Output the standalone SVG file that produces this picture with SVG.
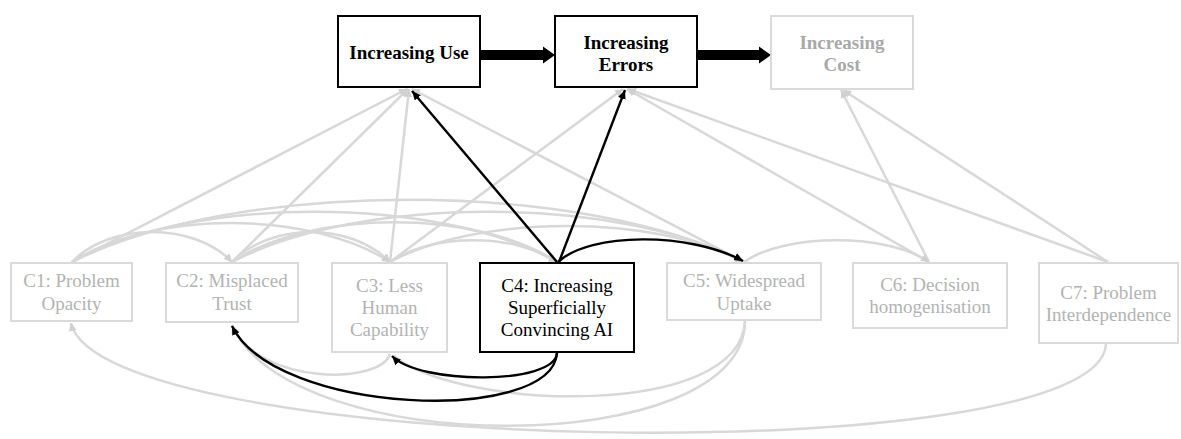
<svg xmlns="http://www.w3.org/2000/svg" width="1181" height="439" viewBox="0 0 1181 439">
<defs>
<style>
.box{fill:#fff;stroke:#000;stroke-width:2}
.gbox{fill:#fff;stroke:#dadada;stroke-width:2}
.t{font-family:"Liberation Serif","Times New Roman",serif;font-size:19px;text-anchor:middle}
.b{font-weight:bold}
.k{fill:#000}
.g{fill:#b3b3b3}
.gc{fill:#a9a9a9}
.gl{fill:none;stroke:#d8d8d8;stroke-width:2.5}
.bl{fill:none;stroke:#000;stroke-width:2.4}
.thick{fill:#000}
</style>
<marker id="ag" markerWidth="10" markerHeight="8" refX="8" refY="4" orient="auto" markerUnits="userSpaceOnUse"><path d="M0,0 L8,4 L0,8 z" fill="#d0d0d0"/></marker>
<marker id="ab" markerWidth="10" markerHeight="8" refX="9" refY="4" orient="auto" markerUnits="userSpaceOnUse"><path d="M0,0 L9,4 L0,8 z" fill="#000"/></marker>
</defs>
<rect width="1181" height="439" fill="#fff"/>
<g id="connectors">
<path class="gl" d="M72,262 L407,89" marker-end="url(#ag)"/>
<path class="gl" d="M232,262 L408,89" marker-end="url(#ag)"/>
<path class="gl" d="M390,262 L409,89" marker-end="url(#ag)"/>
<path class="gl" d="M744,262 L412,89" marker-end="url(#ag)"/>
<path class="gl" d="M390,262 L623,89" marker-end="url(#ag)"/>
<path class="gl" d="M929,262 L627,89" marker-end="url(#ag)"/>
<path class="gl" d="M1108,262 L628,89" marker-end="url(#ag)"/>
<path class="gl" d="M929,262 L841,90" marker-end="url(#ag)"/>
<path class="gl" d="M1108,262 L843,90" marker-end="url(#ag)"/>
<path class="gl" d="M72,262 C110,222 194,222 232,262" marker-end="url(#ag)"/>
<path class="gl" d="M72,262 C152,210 310,210 390,262" marker-end="url(#ag)"/>
<path class="gl" d="M72,262 C192,195 437,195 557,262" marker-end="url(#ag)"/>
<path class="gl" d="M72,262 C237,179 579,179 744,262" marker-end="url(#ag)"/>
<path class="gl" d="M232,262 C272,222 350,222 390,262" marker-end="url(#ag)"/>
<path class="gl" d="M232,262 C312,209 477,209 557,262" marker-end="url(#ag)"/>
<path class="gl" d="M232,262 C360,195 616,195 744,262" marker-end="url(#ag)"/>
<path class="gl" d="M390,262 C432,233 515,233 557,262" marker-end="url(#ag)"/>
<path class="gl" d="M390,262 C478,214 656,214 744,262" marker-end="url(#ag)"/>
<path class="gl" d="M744,262 C785,233 888,233 929,262" marker-end="url(#ag)"/>
<path class="gl" d="M1106,344 C1100,475 100,455 71,323" marker-end="url(#ag)"/>
<path class="gl" d="M745,321 C745,460 290,460 232,325" marker-end="url(#ag)"/>
<path class="gl" d="M745,321 C740,420 460,410 394,356"/>
<path class="gl" d="M390,354 C380,385 260,385 232,326"/>
<path class="bl" d="M557,262 L412,91" marker-end="url(#ab)"/>
<path class="bl" d="M559,262 L625,90" marker-end="url(#ab)"/>
<path class="bl" d="M558,262 C590,232 690,232 743,261" marker-end="url(#ab)"/>
<path class="bl" d="M557,353 C555,385 420,385 392,356" marker-end="url(#ab)"/>
<path class="bl" d="M557,353 C552,425 275,415 232,326" marker-end="url(#ab)"/>
<polygon class="thick" points="480,50 543,50 543,46.5 555,55 543,63.5 543,60 480,60"/>
<polygon class="thick" points="697,50 759,50 759,46.5 771,55 759,63.5 759,60 697,60"/>
</g>
<g id="n-use">
<rect class="box" x="338" y="16" width="142" height="71"/>
<text class="t b k" x="409" y="59">Increasing Use</text>
</g>
<g id="n-errors">
<rect class="box" x="555" y="16" width="142" height="71"/>
<text class="t b k" x="626" y="49">Increasing</text>
<text class="t b k" x="626" y="71">Errors</text>
</g>
<g id="n-cost">
<rect class="gbox" x="771" y="16" width="142" height="73"/>
<text class="t b gc" x="842" y="49">Increasing</text>
<text class="t b gc" x="842" y="71">Cost</text>
</g>
<g id="n-c1">
<rect class="gbox" x="11" y="263" width="121" height="58"/>
<text class="t g" x="71.5" y="287">C1: Problem</text>
<text class="t g" x="71.5" y="310">Opacity</text>
</g>
<g id="n-c2">
<rect class="gbox" x="166" y="263" width="132" height="59"/>
<text class="t g" x="232" y="287">C2: Misplaced</text>
<text class="t g" x="232" y="310">Trust</text>
</g>
<g id="n-c3">
<rect class="gbox" x="332" y="263" width="115" height="89"/>
<text class="t g" x="389.5" y="292">C3: Less</text>
<text class="t g" x="389.5" y="314">Human</text>
<text class="t g" x="389.5" y="336">Capability</text>
</g>
<g id="n-c4">
<rect class="box" x="480" y="263" width="154" height="89"/>
<text class="t k" x="557" y="292">C4: Increasing</text>
<text class="t k" x="557" y="314">Superficially</text>
<text class="t k" x="557" y="336">Convincing AI</text>
</g>
<g id="n-c5">
<rect class="gbox" x="667" y="263" width="154" height="57"/>
<text class="t g" x="744" y="287">C5: Widespread</text>
<text class="t g" x="744" y="310">Uptake</text>
</g>
<g id="n-c6">
<rect class="gbox" x="853" y="263" width="154" height="65"/>
<text class="t g" x="930" y="291">C6: Decision</text>
<text class="t g" x="930" y="313">homogenisation</text>
</g>
<g id="n-c7">
<rect class="gbox" x="1039" y="263" width="139" height="80"/>
<text class="t g" x="1108.5" y="299">C7: Problem</text>
<text class="t g" x="1108.5" y="321">Interdependence</text>
</g>
</svg>
